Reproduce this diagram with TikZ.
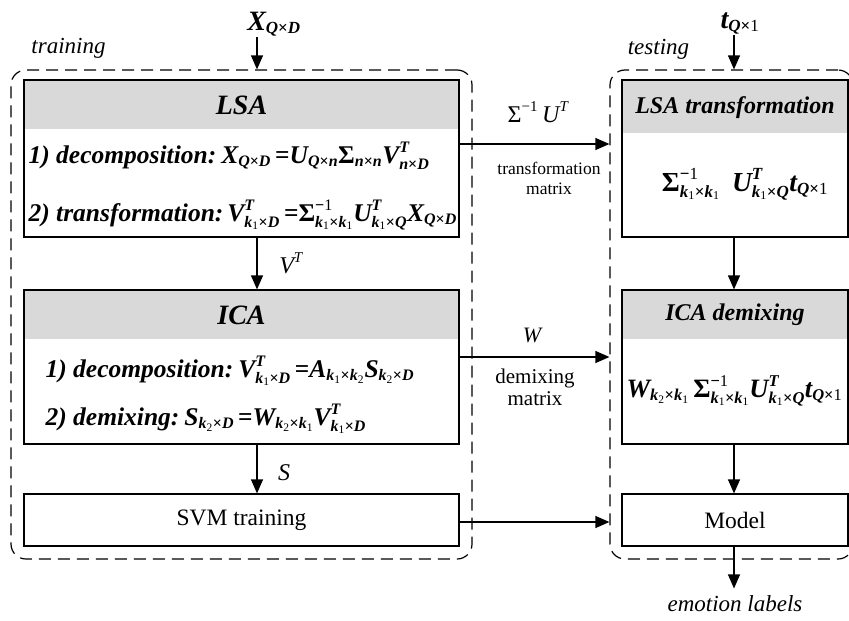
\documentclass[tikz,border=0pt]{standalone}
\usepackage{amsmath}
\usepackage{fontspec}
\setmainfont{Liberation Serif}
\usetikzlibrary{positioning,arrows.meta}

\DeclareMathSizes{25.5}{25.5}{16}{11.5}
\DeclareMathSizes{26.5}{26.5}{16.5}{11.5}
\DeclareMathSizes{27.5}{27.5}{17}{12}
\DeclareMathSizes{28}{28}{17}{12}
\DeclareMathSizes{24}{24}{15}{11}
\DeclareMathSizes{22}{22}{14}{10}

\newcommand{\bt}[1]{\text{#1}}
\newcommand{\by}{\bt{\upshape ×}}
\newcommand{\ki}{\bt{k}_{\bt{\upshape\mdseries 1}}}
\newcommand{\kii}{\bt{k}_{\bt{\upshape\mdseries 2}}}
\newcommand{\sm}{\bt{\upshape Σ}}
\newcommand{\inv}{\bt{\upshape −\mdseries 1}}
\newcommand{\eqs}{\,\bt{\upshape =}}

\begin{document}
\begin{tikzpicture}[
    x=1pt, y=-1pt,
    >={Triangle[length=14pt, width=12pt]},
    line width=1.2pt,
    group/.style={draw, dash pattern=on 12pt off 7pt, rounded corners=15pt, minimum height=489pt, inner sep=0pt},
    box/.style={draw, inner sep=0pt},
    head/.style={fill=black!15, inner sep=0pt, anchor=north},
    hdbig/.style={font=\fontsize{28}{32}\selectfont\bfseries\itshape},
    hdsmall/.style={font=\fontsize{24}{28}\selectfont\bfseries\itshape},
    eqn/.style={font=\fontsize{25.5}{30}\selectfont\bfseries\itshape, inner sep=0pt},
    txt/.style={font=\fontsize{23.5}{27}\selectfont, inner sep=0pt},
    lab/.style={font=\fontsize{23}{27}\selectfont\itshape, inner sep=0pt},
  ]
    \useasboundingbox (0,0) rectangle (849,621);

    \node[group, minimum width=461pt] (train) at (241.5,314.5) {};
    \node[group, minimum width=243pt] (test) at (731.5,314.5) {};
    \node[lab, anchor=base] (trn) at (68.5,53) {training};
    \node[lab, anchor=base] (tst) at (658.5,54) {testing};

    \coordinate (lc) at (257,0);
    \coordinate (rc) at (734,0);

    % training side
    \node[head, minimum width=433.8pt, minimum height=48pt, hdbig] (lsah) at (241.5,80.6) {LSA};
    \node[box, minimum width=435pt, minimum height=157pt] (lsa) at (241.5,158.5) {};
    \node[eqn, anchor=base west] (f1) at (28,163)
      {1) decomposition:\hspace{5pt}$\bt{X}_{\bt{Q}\by\bt{D}}\eqs\bt{U}_{\bt{Q}\by\bt{n}}\sm_{\bt{n}\by\bt{n}}\bt{V}^{\bt{T}}_{\bt{n}\by\bt{D}}$};
    \node[eqn, anchor=base west] (f2) at (28,221)
      {2) transformation:\hspace{4pt}$\bt{V}^{\bt{T}}_{\ki\by\bt{D}}\eqs\sm^{\inv}_{\ki\by\ki}\bt{U}^{\bt{T}}_{\ki\by\bt{Q}}\bt{X}_{\bt{Q}\by\bt{D}}$};

    \node[head, minimum width=433.8pt, minimum height=48pt, hdbig] (icah) at (241.5,290.6) {ICA};
    \node[box, minimum width=435pt, minimum height=154pt] (ica) at (241.5,367) {};
    \node[eqn, anchor=base west] (f3) at (45,377)
      {1) decomposition:\hspace{5pt}$\bt{V}^{\bt{T}}_{\ki\by\bt{D}}\eqs\bt{A}_{\ki\by\kii}\bt{S}_{\kii\by\bt{D}}$};
    \node[eqn, anchor=base west] (f4) at (45,425)
      {2) demixing:\hspace{5pt}$\bt{S}_{\kii\by\bt{D}}\eqs\bt{W}_{\kii\by\ki}\bt{V}^{\bt{T}}_{\ki\by\bt{D}}$};

    \node[box, minimum width=435pt, minimum height=52pt, txt] (svm) at (241.5,520) {SVM training};

    % testing side
    \node[head, minimum width=224.8pt, minimum height=52pt, hdsmall] (lsath) at (735,80.6) {LSA transformation};
    \node[box, minimum width=226pt, minimum height=157pt] (lsat) at (735,158.5) {};
    \node[eqn, font=\fontsize{27.5}{31}\selectfont\bfseries\itshape, anchor=base] (f5) at (745,191)
      {$\sm^{\inv}_{\ki\by\ki}\hspace{12pt}\bt{U}^{\bt{T}}_{\ki\by\bt{Q}}\bt{t}_{\bt{Q}\by\bt{\upshape\mdseries 1}}$};

    \node[head, minimum width=224.8pt, minimum height=48pt, hdsmall] (icadh) at (735,290.6) {ICA demixing};
    \node[box, minimum width=226pt, minimum height=154pt] (icad) at (735,367) {};
    \node[eqn, font=\fontsize{26.5}{30}\selectfont\bfseries\itshape, anchor=base] (f6) at (734.5,397)
      {$\bt{W}_{\kii\by\ki}\,\sm^{\inv}_{\ki\by\ki}\bt{U}^{\bt{T}}_{\ki\by\bt{Q}}\bt{t}_{\bt{Q}\by\bt{\upshape\mdseries 1}}$};

    \node[box, minimum width=226pt, minimum height=52pt, txt] (model) at (735,520) {Model};

    % inputs and outputs
    \node[eqn, font=\fontsize{28}{32}\selectfont\bfseries\itshape, anchor=base] (xin) at (274,30)
      {$\bt{X}_{\bt{Q}\by\bt{D}}$};
    \node[eqn, font=\fontsize{28}{32}\selectfont\bfseries\itshape, anchor=base] (tin) at (740,28)
      {$\bt{t}_{\bt{Q}\by\bt{\upshape\mdseries 1}}$};
    \node[lab, anchor=base] (emo) at (735,611) {emotion labels};

    \draw[->] (xin.south -| lc) -- (train.north -| lc);
    \draw[->] (tin.south -| rc) -- (test.north -| rc);
    \draw[->] (lsa.south -| lc) -- (ica.north -| lc);
    \draw[->] (ica.south -| lc) -- (svm.north -| lc);
    \draw[->] (lsat.south -| rc) -- (icad.north -| rc);
    \draw[->] (icad.south -| rc) -- (model.north -| rc);
    \draw[->] (model.south -| rc) -- ([yshift=6pt]emo.north -| rc);

    \node[lab, font=\fontsize{24}{28}\selectfont\itshape, anchor=base] (vt) at (291,273) {$\bt{V}^{\bt{T}}$};
    \node[lab, font=\fontsize{24}{28}\selectfont\itshape, anchor=base] (sl) at (284,480) {$\bt{S}$};

    % links between the two sides
    \coordinate (a1) at ([yshift=14.5pt]lsa.east);
    \coordinate (a2) at ([yshift=10pt]ica.east);
    \coordinate (a3) at ([yshift=-2pt]svm.east);
    \draw[->] (a1) -- (a1 -| test.west);
    \draw[->] (a2) -- (a2 -| test.west);
    \draw[->] (a3) -- (a3 -| test.west);

    \node[txt, font=\fontsize{24}{28}\selectfont, anchor=base] (sut) at (538,122)
      {$\sm^{\bt{−1}}\,\bt{\itshape U}^{\bt{\itshape T}}$};
    \node[txt, font=\fontsize{17.5}{19.5}\selectfont, align=center, anchor=north] (tm) at (549,162)
      {transformation\\matrix};
    \node[lab, font=\fontsize{22}{26}\selectfont\itshape, anchor=base] (wl) at (532,342) {W};
    \node[txt, font=\fontsize{21}{22.5}\selectfont, align=center, anchor=north] (dm) at (535,368)
      {demixing\\matrix};
\end{tikzpicture}
\end{document}
